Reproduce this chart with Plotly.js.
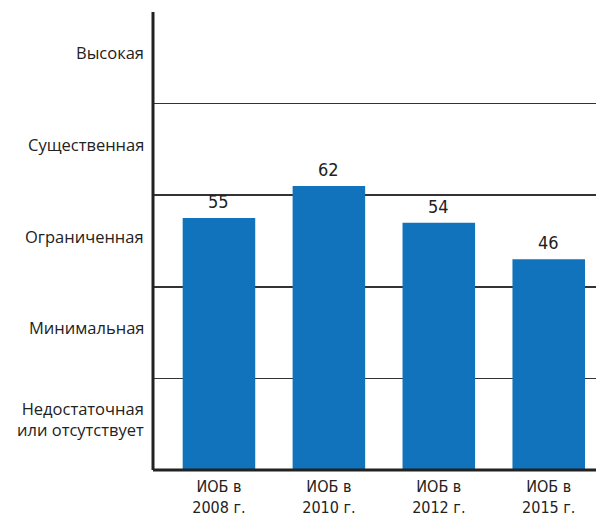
<!DOCTYPE html>
<html>
<head>
<meta charset="utf-8">
<script src="https://cdn.plot.ly/plotly-3.0.1.min.js"></script>
<style>html,body{margin:0;padding:0;background:#fff;}#chart{width:596px;height:514px;}</style>
</head>
<body>
<div id="chart"></div>
<script>
var categories = ["ИОБ в<br>2008 г.", "ИОБ в<br>2010 г.", "ИОБ в<br>2012 г.", "ИОБ в<br>2015 г."];
var values = [55, 62, 54, 46];
var levelLabels = ["Недостаточная<br>или отсутствует", "Минимальная", "Ограниченная", "Существенная", "Высокая"];
var levelCenters = [10, 30, 50, 70, 90];
var gridValues = [20, 40, 60, 80, 100];

var narrow = "'DejaVu Sans Condensed', 'Liberation Sans Narrow', Roboto, sans-serif";
var sans = "'Open Sans', 'Noto Sans', sans-serif";

var annotations = [];
levelLabels.forEach(function(t, i){
  annotations.push({xref:'paper', yref:'y', x:0, y:levelCenters[i], text:t, showarrow:false,
    xanchor:'right', yanchor:'middle', xshift:-7, yshift:5, align:'right',
    font:{family:sans, size:16.5, color:'#222'}});
});
categories.forEach(function(c, i){
  annotations.push({xref:'x', yref:'y', x:c, y:values[i], text:String(values[i]), showarrow:false,
    xanchor:'center', yanchor:'bottom', yshift:4, font:{family:narrow, size:18, color:'#222'}});
});

var data = [{
  type:'bar', x:categories, y:values, width:0.66,
  marker:{color:'#1173bb'}, hoverinfo:'none'
}];

var layout = {
  width:596, height:514,
  margin:{l:153, r:0, t:12, b:44},
  paper_bgcolor:'#fff', plot_bgcolor:'#fff',
  showlegend:false,
  xaxis:{type:'category', range:[-0.6, 3.43], showgrid:false, zeroline:false,
    showline:false, ticks:'', ticklabelstandoff:5, tickfont:{family:narrow, size:16, color:'#222'}},
  yaxis:{range:[0, 100], tickvals:gridValues, showticklabels:false, ticks:'',
    showgrid:true, gridcolor:'#333', gridwidth:1.5, zeroline:false, showline:false},
  shapes:[
    {type:'line', xref:'paper', yref:'paper', x0:0, x1:0, y0:0, y1:1, line:{color:'#222', width:3}},
    {type:'line', xref:'paper', yref:'paper', x0:0, x1:1, y0:0, y1:0, line:{color:'#222', width:3}}
  ],
  annotations:annotations
};

Plotly.newPlot('chart', data, layout, {staticPlot:true, displayModeBar:false});
</script>
</body>
</html>
